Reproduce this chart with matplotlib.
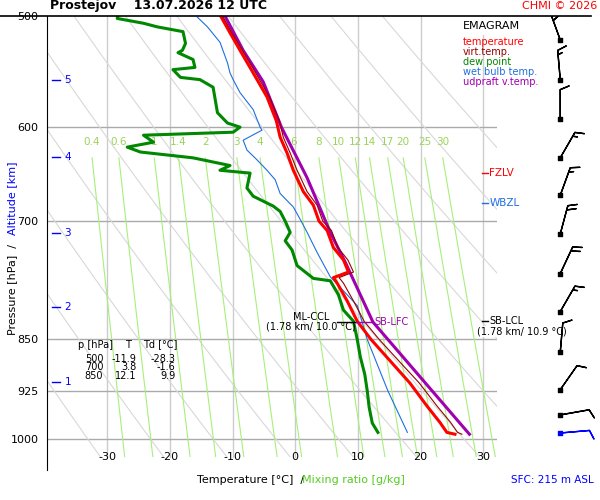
import numpy as np
import matplotlib
matplotlib.use("Agg")
import matplotlib.pyplot as plt
from matplotlib.ticker import FixedLocator, NullLocator

# --- sounding data ---
t_p = [500, 514, 529, 549, 571, 594, 610, 626, 644, 667, 682, 700, 711, 731, 746, 761, 768,
       775, 798, 825, 850, 885, 913, 949, 974, 990, 993]
t_val = [-11.9, -10.4, -8.8, -6.7, -4.5, -3.0, -2.4, -1.3, -0.3, 1.3, 2.9, 3.8, 5.1, 6.1, 7.7, 8.5, 6.1,
         6.7, 8.3, 9.9, 12.1, 15.6, 18.3, 21.1, 23.1, 24.2, 25.5]
tv_val = [-11.6, -10.1, -8.4, -6.3, -4.1, -2.5, -1.9, -0.8, 0.3, 1.9, 3.5, 4.4, 5.8, 6.8, 8.4, 9.3, 7.0,
          7.7, 9.3, 11.0, 13.4, 17.0, 19.8, 22.7, 24.8, 25.9, 26.6]
td_p = [500, 502, 506, 509, 513, 523, 529, 531, 537, 544, 546, 553, 555, 562, 586, 596, 600, 605,
        608, 615, 620, 625, 631, 639, 644, 647, 663, 672, 683, 689, 700, 713, 723, 734, 753, 769,
        772, 790, 810, 825, 850, 875, 900, 925, 950, 975, 990]
td_val = [-28.3, -28.4, -24.2, -22.0, -17.9, -17.5, -18.0, -18.7, -16.3, -16.0, -19.5, -18.3, -15.2,
          -13.1, -12.4, -10.8, -8.8, -9.9, -24.2, -22.6, -26.8, -24.7, -16.3, -10.4, -12.0, -7.2,
          -7.7, -6.7, -3.5, -2.4, -1.6, -0.8, -1.6, -0.5, 0.3, 2.9, 5.6, 6.9, 7.7, 9.3, 9.9, 10.4,
          11.1, 11.5, 11.8, 12.3, 13.2]
tw_p = [501, 509, 522, 540, 549, 555, 567, 583, 600, 603, 613, 623, 633, 644, 654, 669, 684, 698,
        713, 737, 767, 804, 850, 925, 990]
tw_val = [-15.6, -14.0, -12.0, -10.8, -10.4, -9.9, -8.8, -6.7, -5.6, -5.3, -8.3, -7.7, -6.1, -4.5,
          -3.2, -2.4, -0.3, 0.8, 1.9, 3.5, 5.6, 9.9, 11.5, 14.8, 17.9]
up_p = [500, 529, 557, 600, 652, 713, 749, 826, 993]
up_val = [-11.2, -8.3, -5.1, -2.2, 1.9, 5.6, 8.0, 12.4, 27.8]

mix_ratios = [0.4, 0.6, 1, 1.4, 2, 3, 4, 6, 8, 10, 12, 14, 17, 20, 25, 30]
mix_labels = ["0.4", "0.6", "1", "1.4", "2", "3", "4", "6", "8", "10", "12", "14", "17", "20", "25", "30"]

p_ticks = [500, 600, 700, 850, 925, 1000]
t_ticks = [-30, -20, -10, 0, 10, 20, 30]
alt_p = [911, 806, 714, 630, 555]
alt_lbl = ["1", "2", "3", "4", "5"]

wind_p = [520, 555, 592, 631, 671, 715, 763, 812, 868, 923, 962, 991]
wind_dir = [340, 355, 0, 30, 20, 15, 25, 30, 5, 35, 80, 85]
wind_spd = [30, 15, 10, 15, 15, 20, 20, 15, 10, 10, 10, 10]

table_rows = [("500", "-11.9", "-28.3"), ("700", "3.8", "-1.6"), ("850", "12.1", "9.9")]

P_BOT, P_TOP = 1053, 500

fig = plt.figure(figsize=(6, 5), dpi=100)
ax = fig.add_axes([47 / 600, 1 - 470 / 500, 450 / 600, 454 / 500])
ax.set_yscale("log")
ax.set_ylim(P_BOT, P_TOP)
ax.set_xlim(-39.6, 32.2)
ax.yaxis.set_major_locator(FixedLocator(p_ticks))
ax.yaxis.set_minor_locator(NullLocator())
ax.set_yticklabels([str(p) for p in p_ticks], fontsize=8)
ax.set_xticks(t_ticks)
ax.set_xticklabels([str(t) for t in t_ticks], fontsize=8)
ax.tick_params(axis="y", length=0, pad=6)
ax.tick_params(axis="x", length=0, pad=-13)
for s in ["right", "bottom", "top"]:
    ax.spines[s].set_visible(False)

# grid
for t in t_ticks:
    ax.plot([t, t], [1030, P_TOP], color="#cccccc", lw=1, zorder=1)
for p in p_ticks[1:]:
    ax.axhline(p, color="#aaaaaa", lw=1, zorder=1)
pp = np.linspace(P_TOP, 1030, 60)
for th in range(230, 360, 10):
    ax.plot(th * (pp / 1000) ** 0.286 - 273.15, pp, color="#d8d8d8", lw=0.8, zorder=1)
pm = np.linspace(631, 1030, 30)
for w, lbl in zip(mix_ratios, mix_labels):
    e = w * pm / (622 + w)
    ln = np.log(e / 6.112)
    td = 243.5 * ln / (17.67 - ln)
    ax.plot(td, pm, color="#a6f07a", lw=0.8, zorder=1)
    ax.text(td[0], 615, lbl, color="#9ad45a", fontsize=7.5, ha="center", va="center", zorder=2)

# profiles
ax.plot(tw_val, tw_p, color="#1f6fe0", lw=0.8, zorder=3)
ax.plot(td_val, td_p, color="#008800", lw=2.2, zorder=4)
ax.plot(up_val, up_p, color="#a000b0", lw=2.2, zorder=4)
ax.plot(t_val, t_p, color="#ff0000", lw=2.2, zorder=5)
ax.plot(tv_val, t_p, color="#990000", lw=0.8, zorder=6)

# annotations
ax.plot([6.7, 9.7], [826, 826], color="black", lw=1, zorder=7)
ax.plot([9.7, 12.4], [826, 826], color="#a000b0", lw=1, zorder=7)
ax.text(2.5, 826, "ML-CCL", fontsize=7, ha="center", va="bottom", zorder=8)
ax.text(2.5, 826, "(1.78 km/ 10.0 °C)", fontsize=7, ha="center", va="top", zorder=8)
ax.text(12.6, 826, "SB-LFC", fontsize=7, color="#a000b0", va="center", zorder=8)
ax.plot([29.8, 30.8], [824, 824], color="black", lw=1)
ax.text(31.0, 824, "SB-LCL", fontsize=7, va="center", zorder=8)
ax.text(29.0, 832, "(1.78 km/ 10.9 °C)", fontsize=7, ha="left", va="top", zorder=8, clip_on=False,
        bbox=dict(fc="white", ec="none", pad=0.5))
ax.plot([29.8, 30.8], [647, 647], color="red", lw=1, clip_on=False)
ax.text(31.0, 647, "FZLV", fontsize=7.5, color="red", va="center", clip_on=False)
ax.plot([29.8, 30.8], [680, 680], color="#1f6fe0", lw=1, clip_on=False)
ax.text(31.0, 680, "WBZL", fontsize=7.5, color="#1f6fe0", va="center", clip_on=False)

for p, l in zip(alt_p, alt_lbl):
    ax.plot([-38.8, -37.5], [p, p], color="blue", lw=1)
    ax.text(-36.8, p, l, color="blue", fontsize=7.5, va="center")

# legend box
lx = 0.772
fig.text(lx, 0.948, "EMAGRAM", fontsize=8, va="center",
         bbox=dict(fc="white", ec="none", pad=3))
for i, (txt, c) in enumerate([("temperature", "#ff0000"), ("virt.temp.", "#990000"),
                              ("dew point", "#008800"), ("wet bulb temp.", "#1f6fe0"),
                              ("udpraft v.temp.", "#a000b0")]):
    fig.text(lx, 0.916 - i * 0.02, txt, fontsize=7, color=c, va="center")

# table
fig.text(78 / 600, 0.311, "p [hPa]", fontsize=7, va="center")
fig.text(125 / 600, 0.311, "T", fontsize=7, va="center")
fig.text(143 / 600, 0.311, "Td [°C]", fontsize=7, va="center")
for i, (a, b, c) in enumerate(table_rows):
    y = 0.283 - i * 0.0175
    fig.text(0.172, y, a, fontsize=7, ha="right", va="center")
    fig.text(0.228, y, b, fontsize=7, ha="right", va="center")
    fig.text(0.292, y, c, fontsize=7, ha="right", va="center")

# wind barbs
axw = fig.add_axes([525 / 600, 1 - 470 / 500, 75 / 600, 454 / 500])
axw.set_yscale("log")
axw.set_ylim(P_BOT, P_TOP)
axw.set_xlim(0, 1)
axw.axis("off")
d = np.radians(wind_dir)
u = -np.array(wind_spd) * np.sin(d)
v = -np.array(wind_spd) * np.cos(d)
cols = ["black"] * (len(wind_p) - 1) + ["blue"]
axw.barbs(np.full(len(wind_p), 0.47), wind_p, u, v, color=cols, length=6.5, linewidth=1,
          sizes=dict(height=0.3, spacing=0.15))
axw.scatter(np.full(len(wind_p), 0.47), wind_p, s=8, marker="s", c=cols, zorder=3)

# texts
fig.add_artist(plt.Line2D([0, 0.985], [1 - 16 / 500] * 2, color="black", lw=1.2))
fig.text(50 / 600, 0.988, "Prostejov    13.07.2026 12 UTC", fontsize=9, fontweight="bold", va="center")
fig.text(0.995, 0.988, "CHMI © 2026", fontsize=8, color="red", ha="right", va="center")
fig.text(197 / 600, 0.04, "Temperature [°C]  /", fontsize=8, va="center")
fig.text(302 / 600, 0.04, "Mixing ratio [g/kg]", fontsize=8, color="#55cc22", va="center")
fig.text(0.99, 0.04, "SFC: 215 m ASL", fontsize=7.5, color="blue", ha="right", va="center")
fig.text(0.012, 0.33, "Pressure [hPa]  /", fontsize=8, rotation=90, va="bottom")
fig.text(0.012, 0.53, "Altitude [km]", fontsize=8, rotation=90, va="bottom", color="blue")

fig.savefig("out.png", dpi=100, facecolor="white")
